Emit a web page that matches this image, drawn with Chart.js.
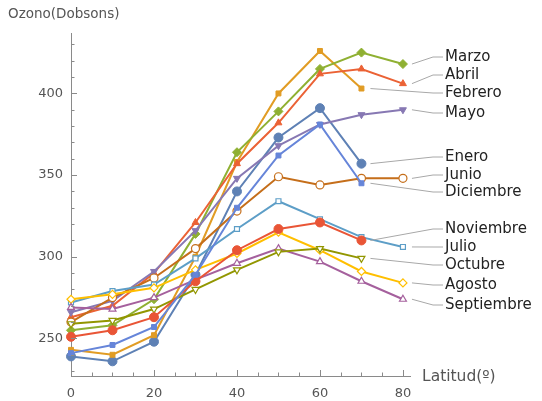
<!DOCTYPE html>
<html>
<head>
<meta charset="utf-8">
<script src="https://cdn.jsdelivr.net/npm/chart.js@4/dist/chart.umd.min.js"></script>
<style>
  html, body { margin: 0; padding: 0; background: #fff; }
  #wrap { width: 542px; height: 401px; position: relative; }
</style>
</head>
<body>
<div id="wrap"><canvas id="ozono"></canvas></div>
<script>
// Latitudes (x) and ozone values (Dobsons) per month
const latitudes = [0, 10, 20, 30, 40, 50, 60, 70, 80];
const months = ['Enero', 'Febrero', 'Marzo', 'Abril', 'Mayo', 'Junio',
   'Julio', 'Agosto', 'Septiembre', 'Octubre', 'Noviembre', 'Diciembre'];

const enero      = [239, 236, 248, 289, 340, 373, 391, 357];
const febrero    = [243, 240, 252, 300, 358, 400, 426, 403];
const marzo      = [255, 258, 274, 314, 364, 389, 415, 425, 418];
const abril      = [263, 270, 290, 321, 357, 382, 412, 415, 406];
const mayo       = [266, 273, 291, 316, 348, 368, 381, 387, 390];
const junio      = [260, 275, 287, 305, 328, 349, 344, 348, 348];
const julio      = [272, 279, 283, 299, 317, 334, 323, 312, 306];
const agosto     = [274, 277, 281, 292, 302, 315, 304, 291, 284];
const septiembre = [269, 268, 275, 286, 296, 305, 297, 285, 274];
const octubre    = [259, 261, 268, 280, 292, 303, 305, 299];
const noviembre  = [251, 255, 263, 285, 304, 317, 321, 310];
const diciembre  = [241, 246, 257, 289, 330, 362, 381, 345];

const series = [enero, febrero, marzo, abril, mayo, junio,
   julio, agosto, septiembre, octubre, noviembre, diciembre];

const xTicks = [0, 20, 40, 60, 80];
const yTicks = [250, 300, 350, 400];

/* ---------------------------------------------------------------------------------*/
/* Styles (Mathematica default palette) */
/* ---------------------------------------------------------------------------------*/
const colors = ['#5E81B5', '#E19C24', '#8FB032', '#EB6235', '#8778B3', '#C56E1A',
   '#5D9EC7', '#FFBF00', '#A5609D', '#929600', '#E95536', '#6685D9'];
const markers = ['circle', 'rect', 'rectRot', 'triangle', 'triangle', 'circle',
   'rect', 'rectRot', 'triangle', 'triangle', 'circle', 'rect'];
const rotations = [0, 0, 0, 0, 180, 0, 0, 0, 0, 180, 0, 0];
const filled = [true, true, true, true, true, false, false, false, false, false, true, true];
const radii = [4.5, 3.5, 4.5, 4, 4, 4, 3.5, 4, 4, 4, 4.5, 3.5];

// label y positions of the callouts on the right (pixels)
const calloutY = [157, 93, 57, 75, 113, 175, 247, 285, 305, 265, 229, 192];

/* ---------------------------------------------------------------------------------*/
/* Datasets */
/* ---------------------------------------------------------------------------------*/
const datasets = series.map((vals, i) => ({
   label: months[i],
   data: vals.map((v, j) => ({ x: latitudes[j], y: v })),
   borderColor: colors[i],
   backgroundColor: colors[i],
   borderWidth: 2,
   pointStyle: markers[i],
   rotation: rotations[i],
   pointRadius: radii[i],
   pointBorderWidth: filled[i] ? 1 : 1.2,
   pointBorderColor: colors[i],
   pointBackgroundColor: filled[i] ? colors[i] : '#fff',
   tension: 0,
   clip: false,
   order: 11 - i
}));

// Minor ticks, axis titles and callouts (Function)
const decor = {
   id: 'decor',
   afterDraw(chart) {
      const { ctx, scales: { x, y } } = chart;
      ctx.save();
      ctx.strokeStyle = '#8a8a8a';
      ctx.lineWidth = 1;

      // y ticks, pointing inside
      for (let v = 230; v <= 430; v += 10) {
         const py = Math.round(y.getPixelForValue(v)) + 0.5;
         const len = v % 50 === 0 ? 6 : 3.5;
         ctx.beginPath();
         ctx.moveTo(x.left, py);
         ctx.lineTo(x.left + len, py);
         ctx.stroke();
      }
      // x ticks, pointing inside
      for (let v = 0; v <= 80; v += 5) {
         const px = Math.round(x.getPixelForValue(v)) + 0.5;
         const len = v % 20 === 0 ? 6 : 3.5;
         ctx.beginPath();
         ctx.moveTo(px, y.bottom);
         ctx.lineTo(px, y.bottom - len);
         ctx.stroke();
      }

      // axis titles
      ctx.fillStyle = '#555';
      ctx.textBaseline = 'middle';
      ctx.textAlign = 'left';
      ctx.font = '13.5px "DejaVu Sans"';
      ctx.fillText('Ozono(Dobsons)', 8, 14);
      ctx.font = '15.5px "DejaVu Sans"';
      ctx.fillText('Latitud(º)', x.right + 12, y.bottom + 1);

      // callouts
      ctx.font = '15px "DejaVu Sans"';
      series.forEach((vals, i) => {
         const last = vals.length - 1;
         const px = x.getPixelForValue(latitudes[last]);
         const py = y.getPixelForValue(vals[last]);
         const ly = calloutY[i];
         ctx.strokeStyle = '#a8a8a8';
         ctx.lineWidth = 1;
         ctx.beginPath();
         ctx.moveTo(px + 9, py);
         ctx.lineTo(433, ly);
         ctx.lineTo(443, ly);
         ctx.stroke();
         ctx.fillStyle = '#222';
         ctx.fillText(months[i], 445, ly);
      });
      ctx.restore();
   }
};

/* ---------------------------------------------------------------------------------*/
/* Chart */
/* ---------------------------------------------------------------------------------*/
const ctx = document.querySelector('#ozono');

const config = {
   type: 'line',
   data: { datasets: datasets },
   options: {
      responsive: true,
      maintainAspectRatio: false,
      animation: false,
      layout: { padding: { top: 33, right: 132, left: 0, bottom: 0 } },
      plugins: {
         legend: { display: false },
         tooltip: { enabled: false }
      },
      scales: {
         x: {
            type: 'linear',
            min: 0,
            max: 81.7,
            afterBuildTicks: scale => { scale.ticks = xTicks.map(v => ({ value: v })); },
            afterFit: scale => { scale.height = 25; },
            grid: { display: false, drawTicks: false },
            border: { display: true, color: '#8a8a8a', width: 1 },
            ticks: { color: '#555', font: { family: 'DejaVu Sans', size: 13 }, padding: 10, maxRotation: 0 }
         },
         y: {
            type: 'linear',
            min: 227,
            max: 437,
            afterBuildTicks: scale => { scale.ticks = yTicks.map(v => ({ value: v })); },
            afterFit: scale => { scale.width = 71; },
            grid: { display: false, drawTicks: false },
            border: { display: true, color: '#8a8a8a', width: 1 },
            ticks: { color: '#555', font: { family: 'DejaVu Sans', size: 13 }, padding: 8 }
         }
      }
   },
   plugins: [decor]
};

const ozonoChart = new Chart(ctx, config);
</script>
</body>
</html>
